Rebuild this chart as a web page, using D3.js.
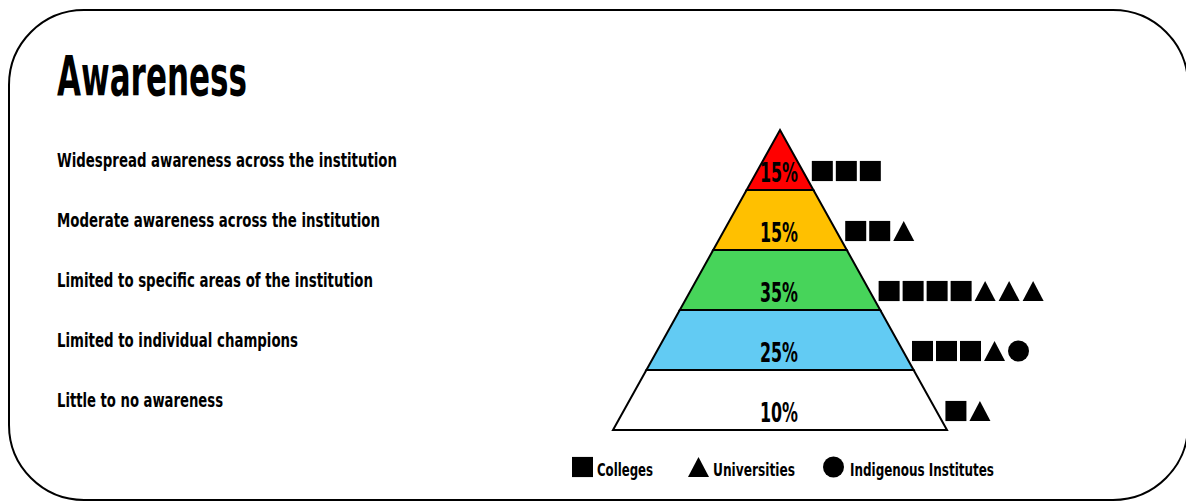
<!DOCTYPE html>
<html>
<head>
<meta charset="utf-8">
<script src="https://cdn.jsdelivr.net/npm/d3@7/dist/d3.min.js"></script>
<style>
  html, body { margin: 0; padding: 0; background: #fff; }
  svg { display: block; }
  text { font-family: "Liberation Sans Narrow", "Arial Narrow", "DejaVu Sans Condensed", sans-serif; font-weight: bold; fill: #000; }
</style>
</head>
<body>
<svg id="chart" width="1186" height="502"></svg>
<script>
// ---- Data ----
const title = "Awareness";
const levels = [
  "Widespread awareness across the institution",
  "Moderate awareness across the institution",
  "Limited to specific areas of the institution",
  "Limited to individual champions",
  "Little to no awareness"
];
const percents = [15, 15, 35, 25, 10];
const layerColors = ["#ff0000", "#ffc000", "#47d45a", "#62cbf3", "#ffffff"];
const colleges = [3, 2, 4, 3, 1];
const universities = [0, 1, 3, 1, 1];
const indigenous = [0, 0, 0, 1, 0];
const legendLabels = ["Colleges", "Universities", "Indigenous Institutes"];

const levelWidths = [340, 323, 316, 241, 166];
const legendWidths = [56, 82, 144];

// ---- Layout ----
const svg = d3.select("#chart");
const W = 1186, H = 502;

// Frame
svg.append("rect")
  .attr("x", 9).attr("y", 10)
  .attr("width", 1179).attr("height", 490)
  .attr("rx", 75).attr("ry", 75)
  .attr("fill", "none").attr("stroke", "#000").attr("stroke-width", 2);

// Title
svg.append("text")
  .attr("x", 57).attr("y", 95)
  .attr("font-size", 55)
  .attr("textLength", 190).attr("lengthAdjust", "spacingAndGlyphs")
  .text(title);

// Left level labels
const yLabel = d3.scaleBand().domain(levels).range([137, 437]);
svg.selectAll("text.level").data(levels).join("text")
  .attr("class", "level")
  .attr("x", 57)
  .attr("y", d => yLabel(d) + yLabel.bandwidth() / 2)
  .attr("font-size", 19)
  .attr("textLength", (d, i) => levelWidths[i])
  .attr("lengthAdjust", "spacingAndGlyphs")
  .text(d => d);

// Pyramid
const apexX = 780, topY = 130, baseY = 430, halfBase = 167;
const y = d3.scaleBand().domain(d3.range(levels.length)).range([topY, baseY]).padding(0);
const halfW = d3.scaleLinear().domain([topY, baseY]).range([0, halfBase]);

const layers = levels.map((lv, i) => ({
  i, label: lv, pct: percents[i], color: layerColors[i],
  y0: y(i), y1: y(i) + y.bandwidth()
}));

svg.selectAll("path.layer").data(layers).join("path")
  .attr("class", "layer")
  .attr("d", d => {
    const p = d3.path();
    p.moveTo(apexX - halfW(d.y0), d.y0);
    p.lineTo(apexX + halfW(d.y0), d.y0);
    p.lineTo(apexX + halfW(d.y1), d.y1);
    p.lineTo(apexX - halfW(d.y1), d.y1);
    p.closePath();
    return p.toString();
  })
  .attr("fill", d => d.color)
  .attr("stroke", "#000").attr("stroke-width", 2)
  .attr("stroke-linejoin", "miter");

svg.selectAll("text.pct").data(layers).join("text")
  .attr("class", "pct")
  .attr("x", apexX - 1)
  .attr("y", d => d.y1 - 8)
  .attr("text-anchor", "middle")
  .attr("font-size", 26)
  .attr("textLength", 38).attr("lengthAdjust", "spacingAndGlyphs")
  .text(d => d.pct + "%");

// Symbols
const triangleType = {
  draw(ctx, size) {
    const w = Math.sqrt(size);       // width
    const h = w * 0.95;
    ctx.moveTo(0, -h / 2);
    ctx.lineTo(w / 2, h / 2);
    ctx.lineTo(-w / 2, h / 2);
    ctx.closePath();
  }
};
const squareType = {
  draw(ctx, size) {
    const w = Math.sqrt(size);
    ctx.rect(-w / 2, -w / 2 * 0.96, w, w * 0.96);
  }
};
const shapes = {
  Colleges: d3.symbol().type(squareType).size(21 * 21),
  Universities: d3.symbol().type(triangleType).size(21 * 21),
  "Indigenous Institutes": d3.symbol().type(d3.symbolCircle).size(Math.PI * 10.5 * 10.5)
};

const spacing = 24, symW = 21;
const symbolItems = [];
layers.forEach((d, i) => {
  const seq = [];
  for (let k = 0; k < colleges[i]; k++) seq.push("Colleges");
  for (let k = 0; k < universities[i]; k++) seq.push("Universities");
  for (let k = 0; k < indigenous[i]; k++) seq.push("Indigenous Institutes");
  const cy = d.y1 - 19;
  const startX = apexX + halfW(cy) + 9;
  const xs = d3.scaleLinear().domain([0, 1]).range([startX + symW / 2, startX + symW / 2 + spacing]);
  seq.forEach((t, k) => symbolItems.push({ type: t, cx: xs(k), cy }));
});

svg.selectAll("path.sym").data(symbolItems).join("path")
  .attr("class", "sym")
  .attr("transform", d => `translate(${d.cx},${d.cy})`)
  .attr("d", d => shapes[d.type]())
  .attr("fill", "#000");

// Legend
const legendX = [582.5, 698.5, 833.5];
const legendTextX = [597, 713, 850];
const legendY = 467;
const lg = svg.selectAll("g.legend").data(legendLabels).join("g").attr("class", "legend");
lg.append("path")
  .attr("transform", (d, i) => `translate(${legendX[i]},${legendY})`)
  .attr("d", d => shapes[d]())
  .attr("fill", "#000");
lg.append("text")
  .attr("x", (d, i) => legendTextX[i])
  .attr("y", 476)
  .attr("font-size", 18)
  .attr("textLength", (d, i) => legendWidths[i])
  .attr("lengthAdjust", "spacingAndGlyphs")
  .text(d => d);
</script>
</body>
</html>
